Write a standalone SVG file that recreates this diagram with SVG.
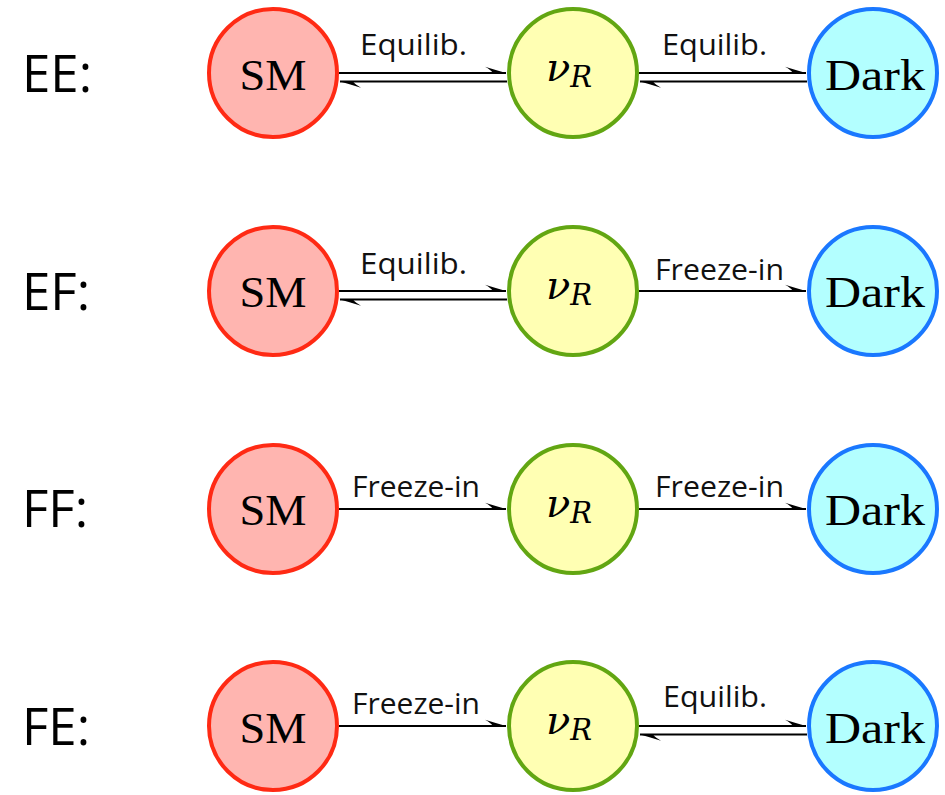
<svg xmlns="http://www.w3.org/2000/svg" width="945" height="795" viewBox="0 0 945 795">
<style>
.row{font-family:"Open Sans","Noto Sans",sans-serif;font-size:51px;fill:#000}
.lbl{font-family:"Open Sans","Noto Sans",sans-serif;font-size:29px;fill:#111}
.nt{font-family:"Liberation Serif","DejaVu Serif",serif;font-size:44px;fill:#000;text-anchor:middle}
.nu{font-family:"DejaVu Serif","Liberation Serif",serif;font-style:italic;fill:#000}
.sm{fill:#ffb5b0;stroke:#ff2a14;stroke-width:4}
.nr{fill:#ffffb3;stroke:#62a612;stroke-width:4}
.dk{fill:#b3ffff;stroke:#1a78ff;stroke-width:4}
.ln{stroke:#000;stroke-width:1.8;fill:none;marker-end:url(#hp)}
</style>
<defs>
<marker id="hp" viewBox="0 0 28 10" refX="25" refY="7" markerWidth="28" markerHeight="10" markerUnits="userSpaceOnUse" orient="auto">
<path d="M25,7 Q15,4.2 4,0.8 Q10,4 12,7 Z" fill="#000"/>
</marker>
</defs>
<g id="rowlabels">
<text class="row" x="22" y="92">EE:</text>
<text class="row" x="22" y="310">EF:</text>
<text class="row" x="22" y="527">FF:</text>
<text class="row" x="22" y="745">FE:</text>
</g>
<g id="connectors">
<line class="ln" x1="339" y1="73" x2="506" y2="73"/>
<line class="ln" x1="507" y1="81.5" x2="340" y2="81.5"/>
<line class="ln" x1="639" y1="73" x2="806" y2="73"/>
<line class="ln" x1="807" y1="81.5" x2="640" y2="81.5"/>
<line class="ln" x1="339" y1="291" x2="506" y2="291"/>
<line class="ln" x1="507" y1="299.5" x2="340" y2="299.5"/>
<line class="ln" x1="639" y1="291" x2="806" y2="291"/>
<line class="ln" x1="339" y1="509" x2="506" y2="509"/>
<line class="ln" x1="639" y1="509" x2="806" y2="509"/>
<line class="ln" x1="339" y1="726" x2="506" y2="726"/>
<line class="ln" x1="639" y1="726" x2="806" y2="726"/>
<line class="ln" x1="807" y1="734.5" x2="640" y2="734.5"/>
<text class="lbl" x="360" y="55" textLength="107" lengthAdjust="spacingAndGlyphs">Equilib.</text>
<text class="lbl" x="662" y="55" textLength="105" lengthAdjust="spacingAndGlyphs">Equilib.</text>
<text class="lbl" x="360" y="274" textLength="107" lengthAdjust="spacingAndGlyphs">Equilib.</text>
<text class="lbl" x="655" y="280" textLength="129" lengthAdjust="spacingAndGlyphs">Freeze-in</text>
<text class="lbl" x="352" y="497" textLength="128" lengthAdjust="spacingAndGlyphs">Freeze-in</text>
<text class="lbl" x="655" y="497" textLength="129" lengthAdjust="spacingAndGlyphs">Freeze-in</text>
<text class="lbl" x="352" y="714" textLength="128" lengthAdjust="spacingAndGlyphs">Freeze-in</text>
<text class="lbl" x="663" y="707" textLength="104" lengthAdjust="spacingAndGlyphs">Equilib.</text>
</g>
<g id="ee-sm"><circle class="sm" cx="273" cy="73" r="64"/><text class="nt" x="273" y="90" textLength="67" lengthAdjust="spacingAndGlyphs">SM</text></g>
<g id="ee-nur"><circle class="nr" cx="573" cy="73" r="64"/><text class="nu" x="546" y="81" font-size="40">ν<tspan font-size="29" dy="6">R</tspan></text></g>
<g id="ee-dark"><circle class="dk" cx="873" cy="73" r="64"/><text class="nt" x="875" y="90" textLength="100" lengthAdjust="spacingAndGlyphs">Dark</text></g>
<g id="ef-sm"><circle class="sm" cx="273" cy="291" r="64"/><text class="nt" x="273" y="307" textLength="67" lengthAdjust="spacingAndGlyphs">SM</text></g>
<g id="ef-nur"><circle class="nr" cx="573" cy="291" r="64"/><text class="nu" x="546" y="299" font-size="40">ν<tspan font-size="29" dy="6">R</tspan></text></g>
<g id="ef-dark"><circle class="dk" cx="873" cy="291" r="64"/><text class="nt" x="875" y="307" textLength="100" lengthAdjust="spacingAndGlyphs">Dark</text></g>
<g id="ff-sm"><circle class="sm" cx="273" cy="509" r="64"/><text class="nt" x="273" y="525" textLength="67" lengthAdjust="spacingAndGlyphs">SM</text></g>
<g id="ff-nur"><circle class="nr" cx="573" cy="509" r="64"/><text class="nu" x="546" y="517" font-size="40">ν<tspan font-size="29" dy="6">R</tspan></text></g>
<g id="ff-dark"><circle class="dk" cx="873" cy="509" r="64"/><text class="nt" x="875" y="525" textLength="100" lengthAdjust="spacingAndGlyphs">Dark</text></g>
<g id="fe-sm"><circle class="sm" cx="273" cy="726" r="64"/><text class="nt" x="273" y="743" textLength="67" lengthAdjust="spacingAndGlyphs">SM</text></g>
<g id="fe-nur"><circle class="nr" cx="573" cy="726" r="64"/><text class="nu" x="546" y="734" font-size="40">ν<tspan font-size="29" dy="6">R</tspan></text></g>
<g id="fe-dark"><circle class="dk" cx="873" cy="726" r="64"/><text class="nt" x="875" y="743" textLength="100" lengthAdjust="spacingAndGlyphs">Dark</text></g>
</svg>
